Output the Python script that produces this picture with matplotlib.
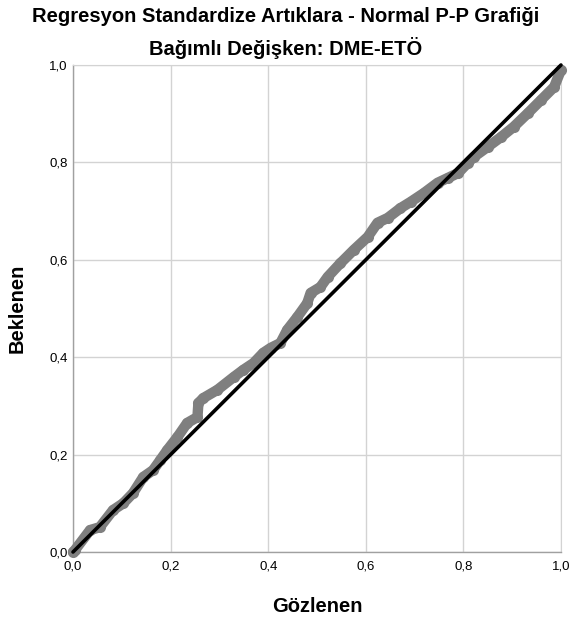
import matplotlib
matplotlib.use("Agg")
import matplotlib.pyplot as plt

plt.rcParams['font.family'] = ['Liberation Sans', 'DejaVu Sans']

observed = [0.0, 0.004, 0.035, 0.055, 0.082, 0.103, 0.123, 0.144, 0.164, 0.179, 0.193,
            0.214, 0.234, 0.255, 0.257, 0.267, 0.296, 0.329, 0.349, 0.37, 0.39, 0.405,
            0.425, 0.439, 0.46, 0.48, 0.487, 0.507, 0.522, 0.548, 0.575, 0.604, 0.624,
            0.645, 0.671, 0.692, 0.719, 0.747, 0.768, 0.789, 0.809, 0.821, 0.85, 0.877,
            0.903, 0.932, 0.959, 0.986, 1.0]
expected = [0.0, 0.004, 0.045, 0.051, 0.086, 0.1, 0.121, 0.154, 0.168, 0.189, 0.209,
            0.236, 0.265, 0.277, 0.306, 0.316, 0.333, 0.359, 0.374, 0.388, 0.409, 0.419,
            0.429, 0.456, 0.483, 0.511, 0.532, 0.544, 0.565, 0.593, 0.62, 0.647, 0.676,
            0.686, 0.706, 0.719, 0.737, 0.758, 0.768, 0.778, 0.799, 0.811, 0.832, 0.852,
            0.873, 0.901, 0.928, 0.955, 0.99]
ref_line = [0.0, 1.0]
ticks = [0.0, 0.2, 0.4, 0.6, 0.8, 1.0]
tick_labels = ['0,0', '0,2', '0,4', '0,6', '0,8', '1,0']

fig = plt.figure(figsize=(5.71, 6.23), dpi=100)
ax = fig.add_axes([73/571, 71/623, (561-73)/571, (552-65)/623])

ax.plot(observed, expected, color='#7f7f7f', linewidth=7.5, solid_capstyle='round',
        solid_joinstyle='round', marker='o', markersize=8, markeredgewidth=0,
        markerfacecolor='#7f7f7f', zorder=3, clip_on=False)
ax.plot(ref_line, ref_line, color='black', linewidth=2.6, solid_capstyle='round',
        zorder=4, clip_on=False)

ax.set_xlim(0, 1)
ax.set_ylim(0, 1)
ax.set_xticks(ticks)
ax.set_yticks(ticks)
ax.set_xticklabels(tick_labels, fontsize=9.5)
ax.set_yticklabels(tick_labels, fontsize=9.5)
ax.tick_params(axis='x', length=0, pad=6)
ax.tick_params(axis='y', length=0, pad=4)
ax.grid(True, color='#d3d3d3', linewidth=1.0)
ax.set_axisbelow(True)
for s in ['top', 'right']:
    ax.spines[s].set_color('#d3d3d3')
for s in ['left', 'bottom']:
    ax.spines[s].set_color('#a0a0a0')
    ax.spines[s].set_linewidth(1.0)

ax.set_xlabel('Gözlenen', fontsize=14.5, fontweight='bold', labelpad=18)
ax.set_ylabel('Beklenen', fontsize=14.5, fontweight='bold', labelpad=16)

fig.text(0.5, 1 - 17/623, 'Regresyon Standardize Artıklara - Normal P-P Grafiği',
         ha='center', va='center', fontsize=14.5, fontweight='bold')
fig.text(0.5, 1 - 48/623, 'Bağımlı Değişken: DME-ETÖ',
         ha='center', va='center', fontsize=14.5, fontweight='bold')

fig.savefig('out.png', dpi=100)
